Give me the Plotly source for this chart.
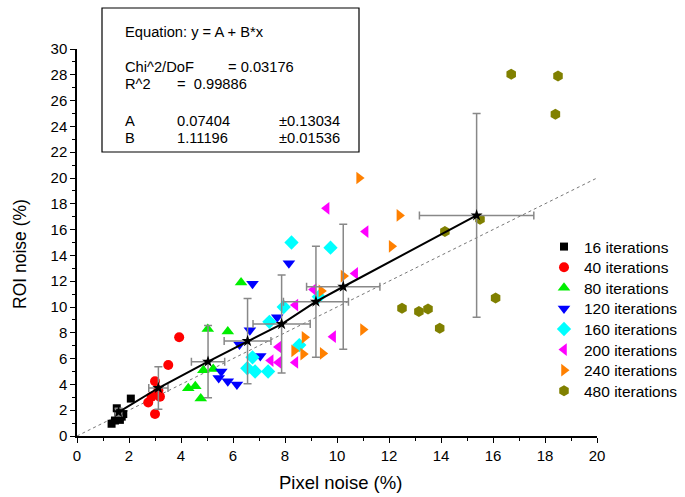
import plotly.graph_objects as go

# ---- data ----
x16 = [1.33, 1.46, 1.53, 1.59, 1.65, 1.72, 1.78, 2.07]
y16 = [0.95, 1.2, 2.15, 1.75, 1.25, 1.5, 1.7, 2.9]

x40 = [2.74, 2.87, 3.0, 3.0, 3.13, 3.19, 3.51, 3.93]
y40 = [2.6, 3.05, 1.7, 4.25, 3.55, 3.05, 5.5, 7.65]

x80 = [4.28, 4.55, 4.76, 4.86, 5.03, 5.24, 5.8, 6.31]
y80 = [3.7, 3.85, 2.9, 5.1, 8.3, 5.2, 8.1, 11.9]

x120 = [5.45, 5.55, 5.8, 6.15, 6.25, 6.65, 6.75, 7.05, 7.7, 8.15]
y120 = [4.5, 5.0, 4.25, 4.0, 7.1, 8.2, 11.8, 6.2, 9.2, 13.4]

x160 = [6.55, 6.75, 6.85, 7.35, 7.4, 7.95, 8.25, 8.55, 9.3, 9.75]
y160 = [5.25, 6.1, 5.0, 5.0, 8.85, 10.0, 15.0, 7.05, 10.8, 14.6]

x200 = [7.45, 7.75, 7.75, 8.4, 8.4, 9.1, 9.85, 9.6, 10.7, 11.1]
y200 = [5.85, 5.7, 6.9, 5.7, 10.15, 11.35, 7.7, 17.65, 12.6, 15.85]

x240 = [8.35, 8.7, 8.75, 9.4, 9.45, 10.25, 10.85, 11.0, 12.1, 12.4]
y240 = [6.6, 6.35, 7.65, 11.25, 6.4, 12.4, 20.0, 8.25, 14.7, 17.1]

x480 = [12.5, 13.15, 13.5, 13.95, 14.15, 15.5, 16.1, 16.7, 18.5, 18.4]
y480 = [9.9, 9.65, 9.85, 8.35, 15.85, 16.8, 10.7, 28.05, 27.9, 24.95]

star_x = [1.6, 3.13, 5.04, 6.56, 7.87, 9.19, 10.24, 15.37]
star_y = [1.85, 3.72, 5.76, 7.36, 8.68, 10.41, 11.57, 17.1]
star_ex = [0.12, 0.37, 0.64, 0.9, 1.1, 1.25, 1.41, 2.2]
star_ey = [0.3, 1.65, 2.8, 3.3, 3.8, 4.3, 4.85, 7.9]

ident_x = [0, 20]
ident_y = [0, 20]

series = [
    ("16 iterations", x16, y16, "square", "#000000", 8),
    ("40 iterations", x40, y40, "circle", "#ff0000", 10),
    ("80 iterations", x80, y80, "triangle-up", "#00ee00", 11),
    ("120 iterations", x120, y120, "triangle-down", "#0000ff", 11),
    ("160 iterations", x160, y160, "diamond", "#00ffff", 11),
    ("200 iterations", x200, y200, "triangle-left", "#ff00ff", 11),
    ("240 iterations", x240, y240, "triangle-right", "#ff8000", 11),
    ("480 iterations", x480, y480, "hexagon", "#808000", 11),
]

FONT = "Liberation Sans, Arial, sans-serif"

L, R, T, B = 77, 88, 49, 61
W, H = 685, 497
pw, ph = W - L - R, H - T - B

def px(xp):
    return (xp - L) / pw

def py(yp):
    return (H - B - yp) / ph

fig = go.Figure()

fig.add_trace(go.Scatter(
    x=ident_x, y=ident_y, mode="lines",
    line=dict(color="#777777", width=1, dash="dot"),
    showlegend=False, hoverinfo="skip"))

legend_layout = {}
for i, (name, xs, ys, sym, col, sz) in enumerate(series):
    lname = "legend" if i == 0 else f"legend{i + 1}"
    fig.add_trace(go.Scatter(
        x=xs, y=ys, mode="markers", name=name, legend=lname,
        marker=dict(symbol=sym, color=col, size=sz, line=dict(width=0))))
    legend_layout[lname] = dict(
        x=px(544), y=py(247 + i * 20.6), xanchor="left", yanchor="middle",
        font=dict(family=FONT, size=15.5, color="black"),
        bgcolor="rgba(0,0,0,0)", itemwidth=30, tracegroupgap=0)

fig.add_trace(go.Scatter(
    x=star_x, y=star_y, mode="lines+markers",
    line=dict(color="black", width=2),
    marker=dict(symbol="star", color="black", size=9),
    error_x=dict(type="data", array=star_ex, color="#888888", thickness=1.5, width=4),
    error_y=dict(type="data", array=star_ey, color="#888888", thickness=1.5, width=4),
    showlegend=False))

fig.add_shape(type="rect", xref="paper", yref="paper",
              x0=px(102), x1=px(359), y0=py(152), y1=py(8),
              line=dict(color="black", width=1.2), fillcolor="white", layer="above")

box_text = [
    ("Equation: y = A + B*x", 123, 32),
    ("Chi^2/DoF", 123, 67),
    ("= 0.03176", 226, 67),
    ("R^2", 123, 84),
    ("=  0.99886", 175, 84),
    ("A", 123, 121),
    ("0.07404", 175, 121),
    ("±0.13034", 277, 121),
    ("B", 123, 138),
    ("1.11196", 175, 138),
    ("±0.01536", 277, 138),
]
for t, xp, yp in box_text:
    fig.add_annotation(text=t, xref="paper", yref="paper", x=px(xp), y=py(yp),
                       xanchor="left", yanchor="middle", showarrow=False,
                       font=dict(family=FONT, size=14.7, color="black"))

# axis titles
fig.add_annotation(text="Pixel noise (%)", xref="paper", yref="paper",
                   x=px(340), y=py(483), xanchor="center", yanchor="middle",
                   showarrow=False, font=dict(family=FONT, size=18.5, color="black"))
fig.add_annotation(text="ROI noise (%)", xref="paper", yref="paper",
                   x=px(20), y=py(254), xanchor="center", yanchor="middle",
                   textangle=-90, showarrow=False,
                   font=dict(family=FONT, size=17.5, color="black"))

axis_common = dict(
    showline=True, linecolor="black", linewidth=1.5,
    ticks="outside", ticklen=5, tickwidth=1.2, tickcolor="black",
    showgrid=False, zeroline=False,
    tickfont=dict(family=FONT, size=15, color="black"),
    minor=dict(ticks="outside", ticklen=3, tickwidth=1.2, tickcolor="black", dtick=1),
    mirror=False,
)

fig.update_layout(
    width=W, height=H,
    margin=dict(l=L, r=R, t=T, b=B, pad=0, autoexpand=False),
    plot_bgcolor="white", paper_bgcolor="white",
    font=dict(family=FONT, color="black"),
    xaxis=dict(range=[0, 20], dtick=2, tick0=0, **axis_common),
    yaxis=dict(range=[0, 30], dtick=2, tick0=0, **axis_common),
    showlegend=True,
    **legend_layout,
)

fig.write_html("out.html")
